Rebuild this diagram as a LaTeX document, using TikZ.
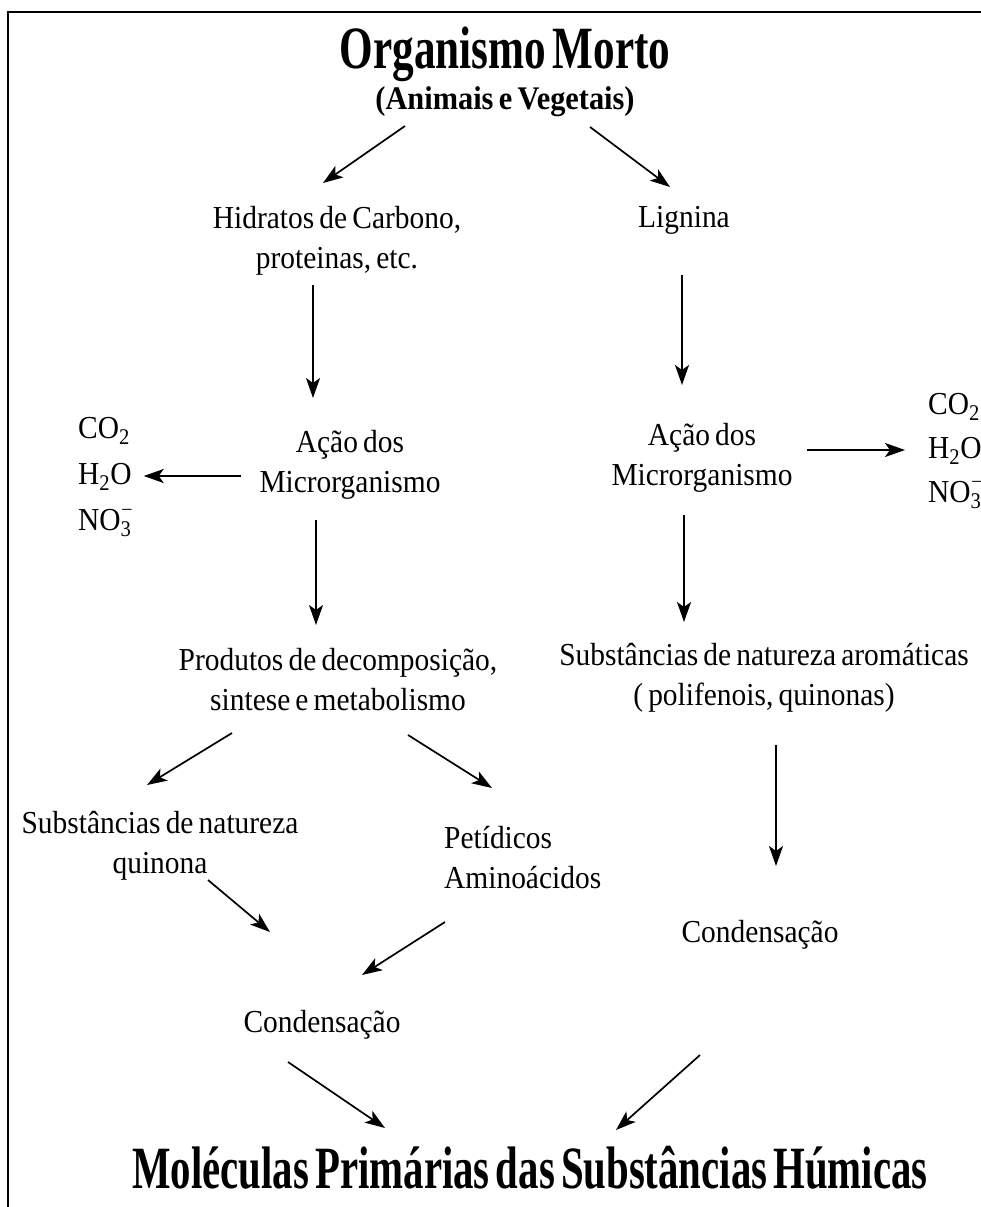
\documentclass[tikz,border=0pt]{standalone}
\usepackage{fontspec}
\setmainfont{Liberation Serif}[FakeStretch=0.92, WordSpace=0.7]
\newfontfamily\headfont{Liberation Serif}[FakeStretch=0.72, WordSpace=0.6]
\newfontfamily\footfont{Liberation Serif}[FakeStretch=0.68, WordSpace=0.6]
\usetikzlibrary{arrows.meta}

\newcommand{\nitrate}{NO\textsubscript{3}\llap{\raisebox{16pt}{\fontsize{20}{20}\selectfont --}}}

\tikzset{
  txt/.style={inner sep=0pt, align=center, font=\fontsize{32}{40}\selectfont},
  gas/.style={txt, anchor=base west, text height=20pt, text depth=4pt},
  head/.style={inner sep=0pt, font=\headfont\bfseries\fontsize{60}{66}\selectfont},
  subhead/.style={inner sep=0pt, font=\bfseries\fontsize{33}{40}\selectfont},
  foot/.style={inner sep=0pt, font=\footfont\bfseries\fontsize{60}{66}\selectfont},
  arr/.style={line width=1.7pt, -{Stealth[length=20pt,width=14pt,inset=5pt]}},
}

\begin{document}
\begin{tikzpicture}[x=1pt,y=-1pt]
\useasboundingbox (0,0) rectangle (981,1207);
\draw[line width=2pt] (8,1207) -- (8,12) -- (981,12);

\node[head] (title) at (505,54) {Organismo Morto};
\node[subhead] (sub) at (505,102) {(Animais e Vegetais)};

\node[txt] (hidr) at (337,241) {Hidratos de Carbono,\\proteinas, etc.};
\node[txt] (lign) at (684,220) {Lignina};

\node[txt] (acaoL) at (350,465) {Ação dos\\Microrganismo};
\node[txt] (acaoR) at (702,458) {Ação dos\\Microrganismo};

% gases liberados
\node[gas] (co2L) at (78,438) {CO\textsubscript{2}};
\node[gas] (h2oL) at (78,484) {H\textsubscript{2}O};
\node[gas] (no3L) at (78,530) {\nitrate};
\node[gas] (co2R) at (928,414) {CO\textsubscript{2}};
\node[gas] (h2oR) at (928,458) {H\textsubscript{2}O};
\node[gas] (no3R) at (928,502) {\nitrate};

\node[txt] (prod) at (338,680) {Produtos de decomposição,\\sintese e metabolismo};
\node[txt] (arom) at (764,678) {Substâncias de natureza aromáticas\\( polifenois, quinonas)};

\node[txt] (quin) at (160,846) {Substâncias de natureza\\quinona};
\node[txt,anchor=west,align=left] (pept) at (444,858) {Petídicos\\Aminoácidos};

\node[txt] (condR) at (760,935) {Condensação};
\node[txt] (condL) at (322,1025) {Condensação};

\node[foot] (mol) at (530,1168) {Moléculas Primárias das Substâncias Húmicas};

% setas
\draw[arr] ([shift={(-100,24)}]sub.center) -- ([shift={(-14,-58)}]hidr.center);
\draw[arr] ([shift={(85,25)}]sub.center) -- ([shift={(-14,-33)}]lign.center);
\draw[arr] ([shift={(-24,44)}]hidr.center) -- ([shift={(-37,-67)}]acaoL.center);
\draw[arr] ([shift={(-2,55)}]lign.center) -- ([shift={(-20,-73)}]acaoR.center);
\draw[arr,shorten <=18pt,shorten >=12pt] (h2oL.east -| acaoL.west) -- (h2oL.east);
\draw[arr,shorten <=14pt,shorten >=23pt] (h2oR.west -| acaoR.east) -- (h2oR.west);
\draw[arr] ([shift={(-34,55)}]acaoL.center) -- ([shift={(-22,-55)}]prod.center);
\draw[arr] ([shift={(-18,57)}]acaoR.center) -- ([shift={(-80,-56)}]arom.center);
\draw[arr] ([shift={(-106,53)}]prod.center) -- ([shift={(-13,-61)}]quin.center);
\draw[arr] ([shift={(70,55)}]prod.center) -- ([shift={(48,-70)}]pept.west);
\draw[arr] ([shift={(12,67)}]arom.center) -- ([shift={(16,-69)}]condR.center);
\draw[arr] ([shift={(48,34)}]quin.center) -- ([shift={(-52,-93)}]condL.center);
\draw[arr] ([shift={(1,64)}]pept.west) -- ([shift={(40,-50)}]condL.center);
\draw[arr] ([shift={(-34,37)}]condL.center) -- ([shift={(-145,-40)}]mol.center);
\draw[arr] ([shift={(-60,120)}]condR.center) -- ([shift={(86,-38)}]mol.center);
\end{tikzpicture}
\end{document}
